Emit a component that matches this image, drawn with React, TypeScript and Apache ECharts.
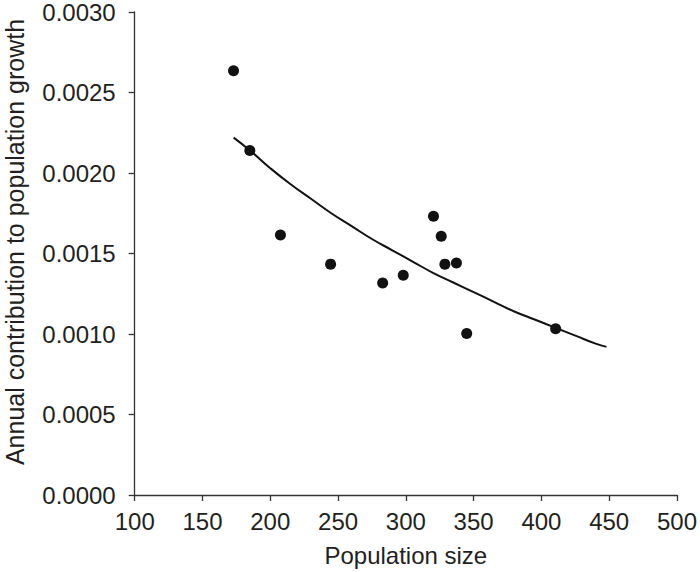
import React, { useEffect, useRef } from "react";
import * as echarts from "echarts";

const xTicks = [100, 150, 200, 250, 300, 350, 400, 450, 500];
const yTicks = [0, 0.0005, 0.001, 0.0015, 0.002, 0.0025, 0.003];

// observed points: [population size, annual contribution]
const pointX = [172.9, 184.9, 207.5, 244.5, 282.9, 298.1, 320.4, 326.1, 328.8, 337.3, 344.9, 410.5];
const pointY = [0.002635, 0.00214, 0.001615, 0.001434, 0.001317, 0.001365, 0.001732, 0.001607, 0.001434, 0.001441, 0.001003, 0.001033];

// fitted curve
const curveX = [173, 185, 200, 215, 230, 245, 260, 275, 290, 305, 320, 335, 350, 365, 380, 395, 410, 425, 440, 448];
const curveY = [0.00222, 0.00214, 0.00203, 0.00193, 0.00184, 0.00175, 0.00167, 0.00159, 0.00152, 0.00145, 0.00138, 0.00132, 0.00126, 0.0012, 0.00114, 0.00109, 0.00104, 0.00099, 0.00094, 0.00092];

const yTitle = "Annual contribution to population growth";
const xTitle = "Population size";

const FONT = "'Liberation Sans', Arial, Helvetica, sans-serif";
const TXT = "#231f20";
const AX = "#333333";

export default function App() {
  const ref = useRef<HTMLDivElement>(null);
  useEffect(() => {
    document.body.style.margin = "0";
    if (!ref.current) return;
    const chart = echarts.init(ref.current, null, { renderer: "svg" });
    const axisCommon = {
      axisLine: { show: true, lineStyle: { color: AX, width: 1.3 } },
      axisTick: { show: true, inside: false, length: 6, lineStyle: { color: AX, width: 1.3 } },
      splitLine: { show: false },
      nameTextStyle: { color: TXT, fontSize: 24, fontFamily: FONT },
    };
    chart.setOption({
      animation: false,
      backgroundColor: "#ffffff",
      grid: { left: 134.7, right: 20.7, top: 9.3, bottom: 76.3, containLabel: false },
      graphic: [
        {
          type: "text",
          x: 15,
          y: 242,
          rotation: Math.PI / 2,
          style: {
            text: yTitle,
            fill: TXT,
            font: `25px ${FONT}`,
            align: "center",
            verticalAlign: "middle",
          },
        },
      ],
      xAxis: {
        type: "value",
        min: xTicks[0],
        max: xTicks[xTicks.length - 1],
        interval: 50,
        name: xTitle,
        nameLocation: "middle",
        nameGap: 48,
        ...axisCommon,
        axisLabel: { color: TXT, fontSize: 24, fontFamily: FONT, margin: 14 },
      },
      yAxis: {
        type: "value",
        min: yTicks[0],
        max: yTicks[yTicks.length - 1],
        interval: 0.0005,
        ...axisCommon,
        axisLabel: {
          color: TXT,
          fontSize: 24,
          fontFamily: FONT,
          margin: 19,
          formatter: (v: number) => v.toFixed(4),
        },
      },
      series: [
        {
          type: "line",
          data: curveX.map((x, i) => [x, curveY[i]]),
          smooth: true,
          showSymbol: false,
          symbol: "none",
          lineStyle: { color: "#111111", width: 2 },
          z: 2,
        },
        {
          type: "scatter",
          data: pointX.map((x, i) => [x, pointY[i]]),
          symbol: "circle",
          symbolSize: 11,
          itemStyle: { color: "#111111", opacity: 1 },
          z: 3,
        },
      ],
    });
    return () => chart.dispose();
  }, []);
  return <div ref={ref} style={{ width: 700, height: 572 }} />;
}
